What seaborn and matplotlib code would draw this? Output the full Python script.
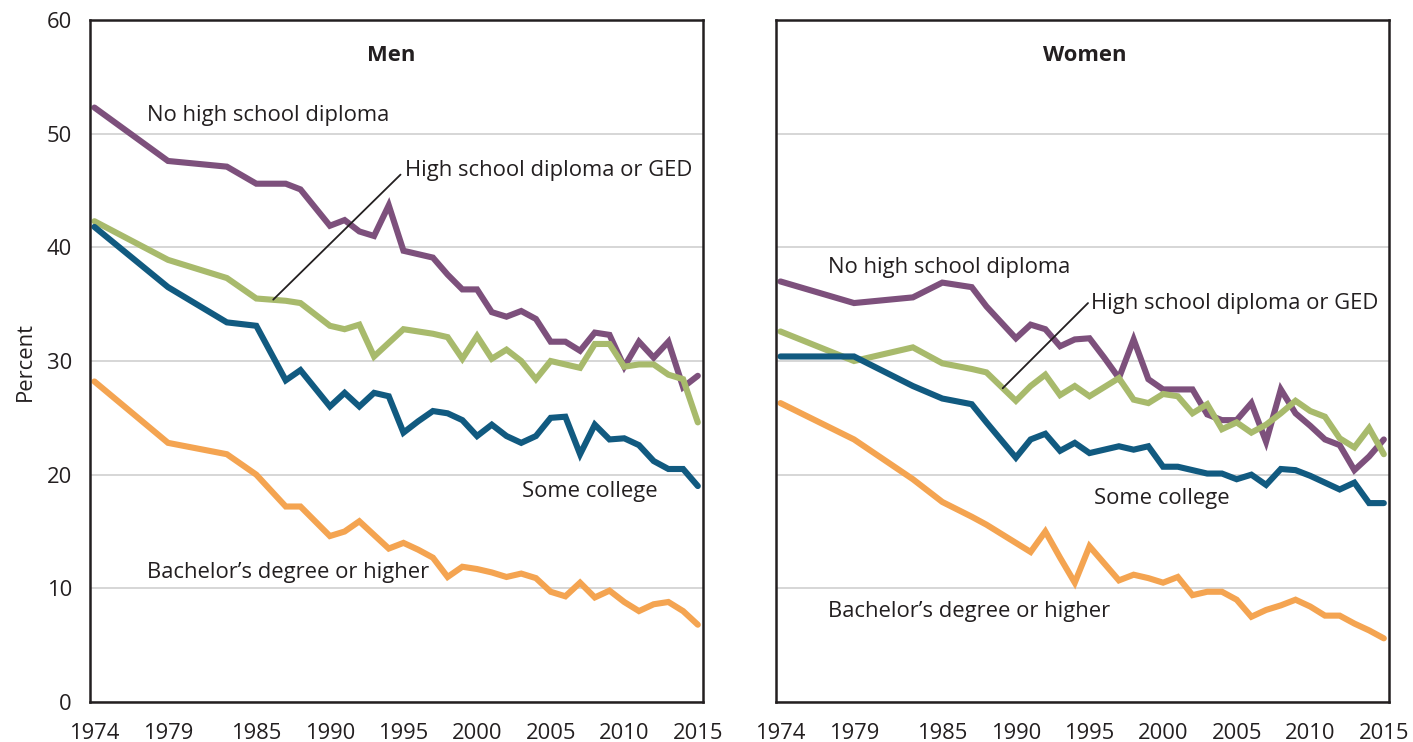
import numpy as np
import pandas as pd
import matplotlib
matplotlib.use("Agg")
import matplotlib.pyplot as plt
import seaborn as sns

# Survey years shown on the chart
years = [1974, 1979, 1983, 1985, 1987, 1988, 1990, 1991, 1992, 1993, 1994,
         1995, 1996, 1997, 1998, 1999, 2000, 2001, 2002, 2003, 2004, 2005,
         2006, 2007, 2008, 2009, 2010, 2011, 2012, 2013, 2014, 2015]

major_years = [1974, 1979, 1985, 1990, 1995, 2000, 2005, 2010, 2015]

education = ["No high school diploma", "High school diploma or GED",
             "Some college", "Bachelor\u2019s degree or higher"]

men_no_hs = [52.3, 47.6, 47.1, 45.6, 45.6, 45.1, 41.9, 42.4, 41.4, 41.0, 43.7,
             39.7, 39.4, 39.1, 37.6, 36.3, 36.3, 34.3, 33.9, 34.4, 33.7, 31.7,
             31.7, 30.9, 32.5, 32.3, 29.5, 31.7, 30.3, 31.7, 27.7, 28.7]
men_hs = [42.3, 38.9, 37.3, 35.5, 35.3, 35.1, 33.1, 32.8, 33.2, 30.4, 31.6,
          32.8, 32.6, 32.4, 32.1, 30.2, 32.2, 30.2, 31.0, 30.0, 28.4, 30.0,
          29.7, 29.4, 31.5, 31.5, 29.5, 29.7, 29.7, 28.8, 28.4, 24.6]
men_some_college = [41.8, 36.5, 33.4, 33.1, 28.3, 29.2, 26.0, 27.2, 26.0, 27.2, 26.9,
                    23.7, 24.7, 25.6, 25.4, 24.8, 23.4, 24.4, 23.4, 22.8, 23.4, 25.0,
                    25.1, 21.8, 24.4, 23.1, 23.2, 22.6, 21.2, 20.5, 20.5, 19.0]
men_bachelor = [28.2, 22.8, 21.8, 20.0, 17.2, 17.2, 14.6, 15.0, 15.9, 14.7, 13.5,
                14.0, 13.4, 12.7, 11.0, 11.9, 11.7, 11.4, 11.0, 11.3, 10.9, 9.7,
                9.3, 10.5, 9.2, 9.8, 8.8, 8.0, 8.6, 8.8, 8.0, 6.8]

women_no_hs = [37.0, 35.1, 35.6, 36.9, 36.5, 34.8, 32.0, 33.2, 32.8, 31.3, 31.9,
               32.0, 30.3, 28.5, 31.9, 28.4, 27.5, 27.5, 27.5, 25.3, 24.8, 24.8,
               26.3, 22.9, 27.5, 25.4, 24.3, 23.1, 22.6, 20.4, 21.6, 23.1]
women_hs = [32.6, 30.0, 31.2, 29.8, 29.3, 29.0, 26.5, 27.8, 28.8, 27.0, 27.8,
            26.9, 27.7, 28.5, 26.6, 26.3, 27.1, 26.9, 25.4, 26.2, 24.0, 24.6,
            23.7, 24.4, 25.4, 26.5, 25.6, 25.1, 23.2, 22.4, 24.1, 21.8]
women_some_college = [30.4, 30.4, 27.8, 26.7, 26.2, 24.6, 21.5, 23.1, 23.6, 22.1, 22.8,
                      21.9, 22.2, 22.5, 22.2, 22.5, 20.7, 20.7, 20.4, 20.1, 20.1, 19.6,
                      20.0, 19.1, 20.5, 20.4, 19.9, 19.3, 18.7, 19.3, 17.5, 17.5]
women_bachelor = [26.3, 23.1, 19.6, 17.6, 16.3, 15.6, 14.0, 13.2, 15.0, 12.7, 10.5,
                  13.7, 12.2, 10.7, 11.2, 10.9, 10.5, 11.0, 9.4, 9.7, 9.7, 9.0,
                  7.5, 8.1, 8.5, 9.0, 8.4, 7.6, 7.6, 6.9, 6.3, 5.6]

colors = ["#7d507c", "#a8ba6c", "#115a80", "#f4a451"]
TEXT = "#231f20"
FS = 15.8


def build_frame(series):
    rows = []
    for edu, vals in zip(education, series):
        for yr, v in zip(years, vals):
            rows.append({"year": yr, "percent": v, "education": edu})
    return pd.DataFrame(rows)


def draw_panel(ax, df, title, labels):
    sns.lineplot(data=df, x="year", y="percent", hue="education",
                 palette=dict(zip(education, colors)), hue_order=education,
                 linewidth=4.4, legend=False, ax=ax, solid_joinstyle="miter")
    ax.set_xlim(1973.7, 2015.35)
    ax.set_ylim(0, 60)
    ax.set_yticks([0, 10, 20, 30, 40, 50, 60])
    ax.grid(axis="y", color="#cbcbcb", linewidth=1.1)
    ax.grid(axis="x", visible=False)
    ax.set_axisbelow(True)
    ax.set_xticks(major_years)
    ax.set_xticks([y for y in years if y not in major_years], minor=True)
    ax.tick_params(axis="x", which="major", length=9, width=1.6, color=TEXT,
                   labelsize=FS, labelcolor=TEXT, pad=6)
    ax.tick_params(axis="x", which="minor", length=6, width=1.6, color=TEXT)
    ax.tick_params(axis="y", length=0, labelsize=FS, labelcolor=TEXT, pad=13)
    for sp in ax.spines.values():
        sp.set_visible(True)
        sp.set_color(TEXT)
        sp.set_linewidth(1.8)
    ax.set_xlabel("")
    ax.set_ylabel("")
    ax.text(title[1], 56.9, title[0], ha="center", va="center",
            fontsize=FS, fontweight="bold", color=TEXT)
    for txt, x, y in labels:
        ax.text(x, y, txt, ha="left", va="center", fontsize=FS, color=TEXT)


def main():
    sns.set_theme(style="white")
    plt.rcParams["font.family"] = ["Open Sans", "DejaVu Sans"]

    fig = plt.figure(figsize=(14.13, 7.42), dpi=100)
    ax_m = fig.add_axes([0.0637, 0.0539, 0.4338, 0.9191])
    ax_w = fig.add_axes([0.5492, 0.0539, 0.4338, 0.9191])

    men = build_frame([men_no_hs, men_hs, men_some_college, men_bachelor])
    women = build_frame([women_no_hs, women_hs, women_some_college, women_bachelor])

    draw_panel(ax_m, men, ("Men", 1994.15), [
        (education[0], 1977.6, 51.6),
        (education[1], 1995.1, 46.8),
        (education[2], 2003.05, 18.5),
        (education[3], 1977.6, 11.4),
    ])
    ax_m.plot([1986.15, 1994.8], [35.4, 46.4], color=TEXT, linewidth=1.3)
    ax_m.set_ylabel("Percent", fontsize=FS, color=TEXT, labelpad=8)

    draw_panel(ax_w, women, ("Women", 1994.65), [
        (education[0], 1977.2, 38.2),
        (education[1], 1995.1, 35.1),
        (education[2], 1995.3, 17.9),
        (education[3], 1977.2, 8.0),
    ])
    ax_w.plot([1989.1, 1994.9], [27.6, 35.1], color=TEXT, linewidth=1.3)
    ax_w.tick_params(axis="y", labelleft=False)

    fig.savefig("out.png", dpi=100)
    plt.close(fig)


if __name__ == "__main__":
    main()
